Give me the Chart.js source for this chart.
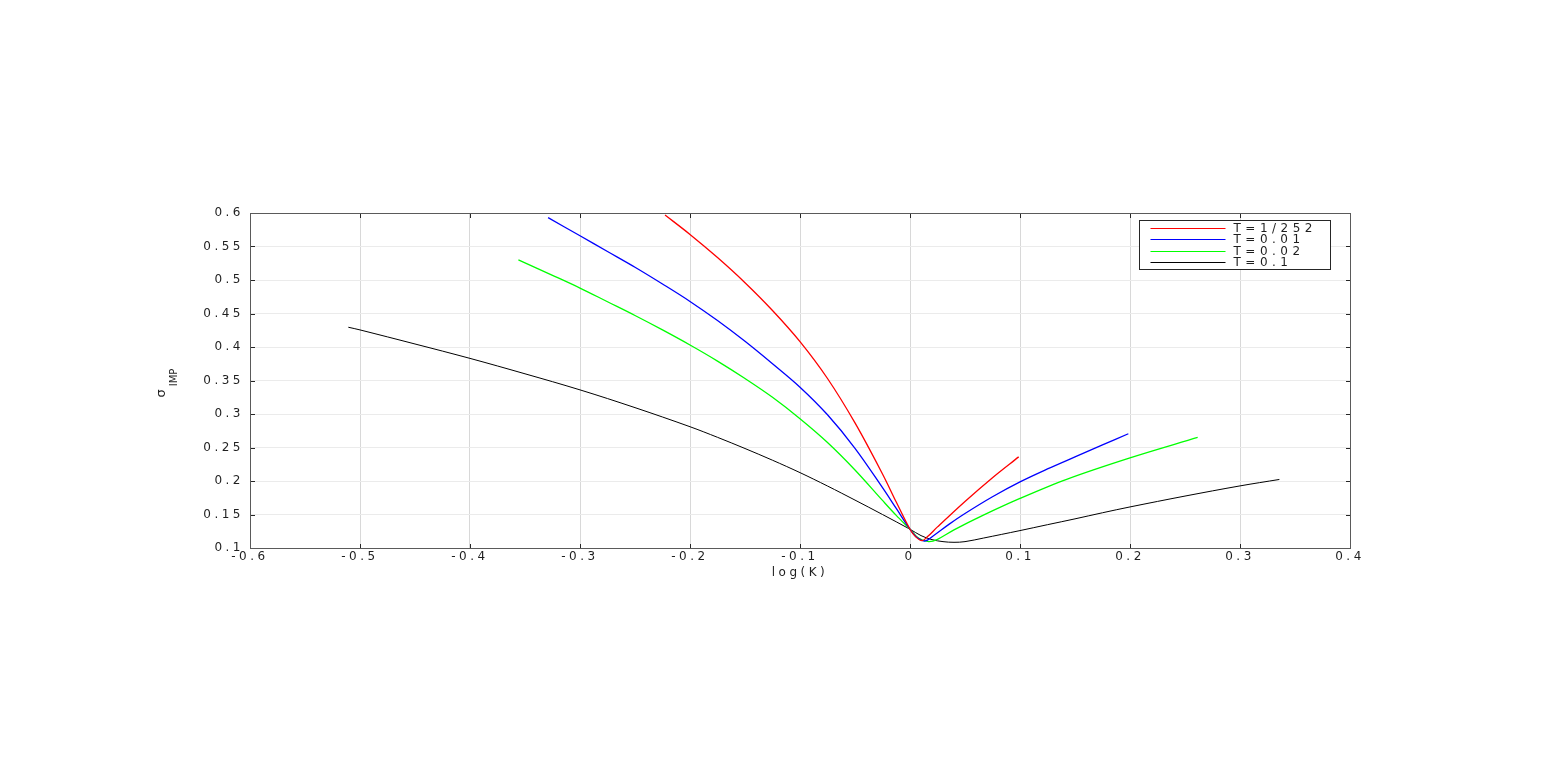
<!DOCTYPE html>
<html><head><meta charset="utf-8">
<script src="https://cdn.jsdelivr.net/npm/chart.js@4/dist/chart.umd.min.js"></script>
<style>html,body{margin:0;padding:0;background:#fff;overflow:hidden}canvas{display:block}</style>
</head><body>
<canvas id="c" width="1550" height="775"></canvas>
<script>
// ---- data ----
const seriesLabels = ['T=1/252', 'T=0.01', 'T=0.02', 'T=0.1'];
const seriesColors = ['#ff0000', '#0000ff', '#00ff00', '#000000'];

const redX = [-0.2227, -0.2, -0.175, -0.15, -0.125, -0.1, -0.075, -0.05, -0.025, -0.0125, 0, 0.005, 0.011, 0.016, 0.025, 0.05, 0.075, 0.0988];
const redY = [0.597, 0.568, 0.5335, 0.496, 0.4545, 0.408, 0.353, 0.2867, 0.2105, 0.1686, 0.128, 0.117, 0.111, 0.117, 0.1315, 0.1695, 0.205, 0.236];

const blueX = [-0.329, -0.3, -0.275, -0.25, -0.225, -0.2, -0.175, -0.15, -0.125, -0.1, -0.075, -0.05, -0.025, -0.0125, 0, 0.007, 0.014, 0.021, 0.036, 0.05, 0.075, 0.1, 0.125, 0.15, 0.175, 0.1985];
const blueY = [0.593, 0.566, 0.5425, 0.519, 0.494, 0.468, 0.4395, 0.4085, 0.375, 0.340, 0.2988, 0.2488, 0.190, 0.159, 0.128, 0.115, 0.1105, 0.118, 0.136, 0.1515, 0.1765, 0.1987, 0.218, 0.236, 0.2538, 0.2705];

const greenX = [-0.356, -0.325, -0.3, -0.275, -0.25, -0.225, -0.2, -0.175, -0.15, -0.125, -0.1, -0.075, -0.05, -0.025, -0.0125, 0, 0.008, 0.017, 0.025, 0.04, 0.0667, 0.1, 0.1424, 0.2, 0.2615];
const greenY = [0.530, 0.507, 0.488, 0.4675, 0.447, 0.4255, 0.403, 0.379, 0.353, 0.325, 0.293, 0.2575, 0.2165, 0.171, 0.1487, 0.128, 0.1145, 0.1095, 0.113, 0.127, 0.149, 0.174, 0.2025, 0.2345, 0.265];

const blackX = [-0.5106, -0.5, -0.45, -0.4, -0.35, -0.3, -0.25, -0.2, -0.175, -0.15, -0.125, -0.1, -0.075, -0.05, -0.025, 0, 0.01, 0.02, 0.03, 0.04, 0.05, 0.0667, 0.1, 0.125, 0.15, 0.175, 0.2, 0.25, 0.3, 0.3358];
const blackY = [0.4295, 0.4255, 0.4045, 0.383, 0.360, 0.336, 0.3095, 0.281, 0.2652, 0.2485, 0.231, 0.2125, 0.1925, 0.1715, 0.150, 0.128, 0.1185, 0.1125, 0.1095, 0.1085, 0.1095, 0.1148, 0.126, 0.1348, 0.1435, 0.1526, 0.1613, 0.1775, 0.1927, 0.2023];

const xTickValues = [-0.6, -0.5, -0.4, -0.3, -0.2, -0.1, 0, 0.1, 0.2, 0.3, 0.4];
const xTickLabels = ['-0.6', '-0.5', '-0.4', '-0.3', '-0.2', '-0.1', '0', '0.1', '0.2', '0.3', '0.4'];
const yTickValues = [0.1, 0.15, 0.2, 0.25, 0.3, 0.35, 0.4, 0.45, 0.5, 0.55, 0.6];
const yTickLabels = ['0.1', '0.15', '0.2', '0.25', '0.3', '0.35', '0.4', '0.45', '0.5', '0.55', '0.6'];

const xTitle = 'log(K)';
const yTitleMain = 'σ';
const yTitleSub = 'IMP';

// ---- styling ----
const FONT = "'DejaVu Sans', 'Liberation Sans', Arial, sans-serif";
const FS = 12;
const LS = '3.5px';
const TEXT = '#1f1f1f';

const xySeries = [[redX, redY], [blueX, blueY], [greenX, greenY], [blackX, blackY]];
const datasets = xySeries.map(([xs, ys], i) => ({
  label: seriesLabels[i],
  data: xs.map((x, j) => ({ x: x, y: ys[j] })),
  borderColor: seriesColors[i],
  backgroundColor: seriesColors[i],
  borderWidth: i === 3 ? 1 : 1.3,
  pointRadius: 0,
  fill: false,
  tension: 0.35
}));

const decor = {
  id: 'decor',
  beforeUpdate(c) { c.ctx.letterSpacing = LS; },
  beforeLayout(c) { c.ctx.letterSpacing = LS; },
  beforeDraw(c) {
    const ctx = c.ctx;
    ctx.letterSpacing = LS;
    ctx.save();
    ctx.fillStyle = '#fff';
    ctx.fillRect(0, 0, c.width, c.height);
    ctx.restore();
  },
  afterDatasetsDraw(c) {
    const ctx = c.ctx;
    const { left, right, top, bottom } = c.chartArea;
    const xs = c.scales.x, ys = c.scales.y;
    ctx.save();
    ctx.strokeStyle = '#262626';
    ctx.lineWidth = 1;
    ctx.beginPath();
    xTickValues.forEach(v => {
      const px = Math.round(xs.getPixelForValue(v)) + 0.5;
      ctx.moveTo(px, bottom + 0.5); ctx.lineTo(px, bottom - 4);
      ctx.moveTo(px, top + 0.5); ctx.lineTo(px, top + 5);
    });
    yTickValues.forEach(v => {
      const py = Math.round(ys.getPixelForValue(v)) + 0.5;
      ctx.moveTo(left + 0.5, py); ctx.lineTo(left + 5, py);
      ctx.moveTo(right + 0.5, py); ctx.lineTo(right - 4, py);
    });
    ctx.stroke();
    ctx.strokeStyle = '#5a5a5a';
    ctx.strokeRect(left + 0.5, top + 0.5, right - left, bottom - top);
    ctx.restore();
  },
  afterDraw(c) {
    const ctx = c.ctx;
    const { top } = c.chartArea;
    const right = c.chartArea.right;
    ctx.save();
    // legend
    const lx = right - 210.5, ly = top + 7.5, lw = 191, lh = 49;
    ctx.fillStyle = '#fff';
    ctx.fillRect(lx, ly, lw, lh);
    ctx.strokeStyle = '#262626';
    ctx.lineWidth = 1;
    ctx.strokeRect(lx, ly, lw, lh);
    ctx.font = FS + 'px ' + FONT;
    ctx.letterSpacing = '4.5px';
    ctx.textBaseline = 'middle';
    ctx.textAlign = 'left';
    c.data.datasets.forEach((ds, i) => {
      const y = Math.round(ly + 7 + i * 11.6) + 0.5;
      ctx.strokeStyle = ds.borderColor;
      ctx.lineWidth = 1;
      ctx.beginPath();
      ctx.moveTo(lx + 11, y); ctx.lineTo(lx + 86, y);
      ctx.stroke();
      ctx.fillStyle = TEXT;
      ctx.fillText(ds.label, lx + 94, y + 0.5);
    });
    // y-axis title with subscript
    ctx.letterSpacing = '0px';
    ctx.fillStyle = TEXT;
    ctx.textAlign = 'center';
    ctx.textBaseline = 'alphabetic';
    ctx.save();
    ctx.translate(165, 393.5);
    ctx.rotate(-Math.PI / 2);
    ctx.font = '13px ' + FONT;
    ctx.fillText(yTitleMain, 0, 0);
    ctx.restore();
    ctx.save();
    ctx.translate(177, 377.5);
    ctx.rotate(-Math.PI / 2);
    ctx.font = '10px ' + FONT;
    ctx.fillText(yTitleSub, 0, 0);
    ctx.restore();
    ctx.restore();
  }
};

new Chart(document.getElementById('c'), {
  type: 'line',
  data: { datasets: datasets },
  plugins: [decor],
  options: {
    responsive: false,
    animation: false,
    events: [],
    layout: { padding: { top: 213, right: 200, bottom: 195, left: 0 } },
    plugins: { legend: { display: false }, tooltip: { enabled: false } },
    scales: {
      x: {
        type: 'linear', position: 'bottom', min: -0.6, max: 0.4,
        afterBuildTicks: s => { s.ticks = xTickValues.map(v => ({ value: v })); },
        afterFit: s => { s.height = 32; },
        ticks: {
          autoSkip: false, maxRotation: 0, padding: 2, color: TEXT,
          font: { family: FONT, size: FS },
          callback: (v, i) => xTickLabels[i]
        },
        grid: { color: '#d8d8d8', lineWidth: 1, drawTicks: false },
        border: { display: false },
        title: { display: true, text: xTitle, color: TEXT, font: { family: FONT, size: FS }, padding: 0 }
      },
      y: {
        type: 'linear', position: 'left', min: 0.1, max: 0.6,
        afterBuildTicks: s => { s.ticks = yTickValues.map(v => ({ value: v })); },
        afterFit: s => { s.width = 250; },
        ticks: {
          autoSkip: false, padding: 6, color: TEXT,
          font: { family: FONT, size: FS },
          callback: (v, i) => yTickLabels[i]
        },
        grid: { color: '#ebebeb', lineWidth: 1, drawTicks: false },
        border: { display: false }
      }
    }
  }
});
</script>
</body></html>
